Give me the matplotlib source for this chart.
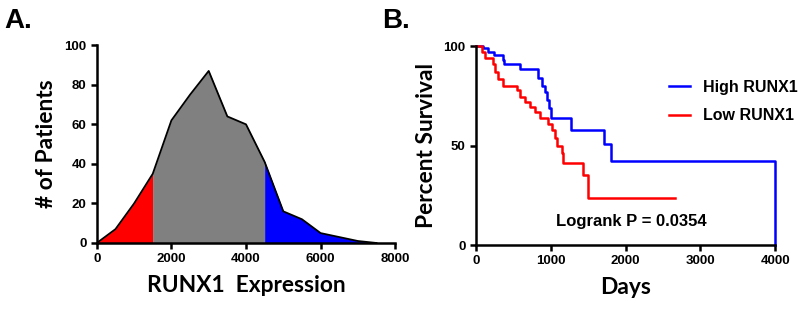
import matplotlib
matplotlib.use('Agg')
from matplotlib import pyplot as plt
import numpy as np

plt.rcParams['font.family'] = ['Liberation Sans', 'DejaVu Sans']
plt.rcParams['font.weight'] = 'bold'

# panel A: distribution of RUNX1 expression
expr = [0, 500, 1000, 1500, 2000, 2500, 3000, 3500, 4000, 4500, 5000, 5500, 6000, 6500, 7000, 7500]
n_patients = [0, 7, 20, 35, 62, 75, 87, 64, 60, 41, 16, 12, 5, 3, 1, 0]
low_cut = 1500
high_cut = 4500

# panel B: Kaplan-Meier curves
high_days = [0, 89, 155, 245, 355, 380, 587, 831, 889, 920, 947, 978, 1000, 1267, 1711, 1800, 4000, 4000]
high_surv = [100, 99, 97, 95.5, 93, 91, 88.5, 84, 80, 77, 73, 69, 64, 58, 51, 42, 42, 0]
low_days = [0, 76, 120, 232, 260, 300, 365, 544, 589, 655, 722, 789, 856, 968, 1012, 1057, 1079, 1146, 1168,
            1436, 1503, 2662]
low_surv = [100, 97, 94, 91, 87, 83.6, 80, 78, 74.4, 72, 69.4, 67, 64, 61, 57.7, 54, 50, 46, 41,
            35, 23.5, 23.5]
p_text = 'Logrank P = 0.0354'

label_font = ['Lato', 'DejaVu Sans']

fig = plt.figure(figsize=(8, 3.09), dpi=100)
axA = fig.add_axes([0.121, 0.2136, 0.373, 0.640])
axB = fig.add_axes([0.595, 0.207, 0.374, 0.644])

x = np.array(expr, dtype=float)
y = np.array(n_patients, dtype=float)
xf = np.linspace(0, x[-1], 2000)
yf = np.interp(xf, x, y)
axA.fill_between(xf, 0, yf, where=xf <= low_cut, color='#ff0000', lw=0.3, ec='#ff0000')
axA.fill_between(xf, 0, yf, where=(xf >= low_cut) & (xf <= high_cut), color='#808080', lw=0.3, ec='#808080')
axA.fill_between(xf, 0, yf, where=xf >= high_cut, color='#0000ff', lw=0.3, ec='#0000ff')
axA.plot(x, y, color='black', lw=1.3)
axA.set_xlim(0, 8000)
axA.set_ylim(0, 100)
axA.set_xticks([0, 2000, 4000, 6000, 8000])
axA.set_yticks([0, 20, 40, 60, 80, 100])
axA.set_ylabel('# of Patients', fontsize=16.4, family=label_font, fontweight='bold', labelpad=5)
axA.set_xlabel('RUNX1  Expression', fontsize=16.4, family=label_font, fontweight='bold', labelpad=7)

axB.step(high_days, high_surv, where='post', color='#0000ff', lw=1.8, label='High RUNX1', clip_on=False)
axB.step(low_days, low_surv, where='post', color='#ff0000', lw=1.8, label='Low RUNX1', clip_on=False)
axB.set_xlim(0, 4000)
axB.set_ylim(0, 100)
axB.set_xticks([0, 1000, 2000, 3000, 4000])
axB.set_yticks([0, 50, 100])
axB.set_ylabel('Percent Survival', fontsize=16.4, family=label_font, fontweight='bold', labelpad=5)
axB.set_xlabel('Days', fontsize=16.4, family=label_font, fontweight='bold', labelpad=7)
axB.text(2083, 11.7, p_text, fontsize=12, fontweight='bold', ha='center', va='center')
axB.legend(loc='upper left', bbox_to_anchor=(0.62, 0.87), frameon=False, fontsize=11.5,
           handlelength=1.3, handletextpad=0.8, borderpad=0, labelspacing=0.85)

for ax in (axA, axB):
    for s in ('top', 'right'):
        ax.spines[s].set_visible(False)
    for s in ('left', 'bottom'):
        ax.spines[s].set_linewidth(1.8)
    ax.tick_params(width=1.8, length=4, labelsize=9.5)
    for lab in ax.get_xticklabels() + ax.get_yticklabels():
        lab.set_fontweight('bold')

fig.text(0.006, 0.91, 'A.', fontsize=20, fontweight='bold')
fig.text(0.478, 0.91, 'B.', fontsize=20, fontweight='bold')

fig.savefig('out.png', dpi=100)
